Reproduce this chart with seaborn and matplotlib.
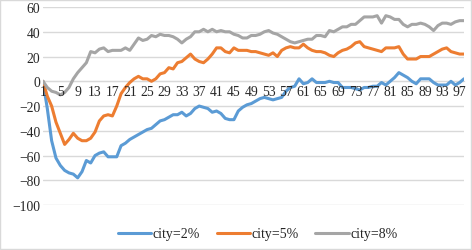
import numpy as np
import pandas as pd
import matplotlib.pyplot as plt
import seaborn as sns

# values
city_2 = [0, -22, -48, -62, -68, -72, -74, -75, -78, -73,
          -64, -66, -60, -58, -57, -61, -61, -61, -52, -50,
          -47, -45, -43, -41, -39, -38, -35, -32, -31, -29,
          -27, -27, -25, -28, -26, -22, -20, -21, -22, -25,
          -24, -26, -30, -31, -31, -24, -21, -19, -18, -16,
          -14, -13, -14, -15, -14, -13, -8, -5, -4, 2,
          -2, -1, 2, -1, -1, -1, 0, -1, -1, -5,
          -5, -5, -6, -7, -5, -5, -4, -4, -1, -3,
          0, 3, 7, 5, 3, 0, -2, 2, 2, 2,
          -1, -3, -3, -3, 0, -3, -1, 2]
city_5 = [0, -12, -20, -33, -42, -51, -47, -42, -46, -48,
          -48, -46, -41, -32, -28, -27, -28, -20, -10, -5,
          -1, 2, 4, 2, 2, 0, 2, 6, 7, 11,
          10, 15, 16, 19, 22, 18, 16, 15, 18, 22,
          27, 27, 24, 23, 27, 25, 25, 25, 24, 24,
          23, 22, 21, 23, 20, 25, 27, 28, 27, 27,
          30, 27, 25, 24, 24, 23, 21, 20, 23, 25,
          26, 28, 31, 32, 28, 27, 26, 25, 24, 27,
          27, 27, 28, 22, 18, 18, 18, 20, 20, 20,
          22, 24, 26, 27, 24, 23, 22, 22]
city_8 = [0, -5, -8, -9, -11, -9, -5, 2, 7, 11,
          15, 24, 23, 26, 27, 24, 25, 25, 25, 27,
          25, 30, 35, 33, 34, 37, 36, 38, 37, 37,
          36, 34, 31, 34, 36, 40, 40, 42, 40, 42,
          40, 41, 40, 40, 38, 37, 35, 35, 37, 37,
          38, 40, 41, 39, 38, 36, 34, 32, 31, 32,
          33, 34, 34, 37, 37, 36, 41, 40, 42, 44,
          44, 46, 46, 49, 52, 52, 52, 53, 47, 53,
          52, 50, 50, 46, 44, 46, 46, 47, 46, 44,
          41, 45, 47, 47, 46, 48, 49, 49]
series_names = ['city=2%', 'city=5%', 'city=8%']
colors = ['#5B9BD5', '#ED7D31', '#A5A5A5']

periods = np.arange(1, len(city_2) + 1)
df = pd.DataFrame({'t': np.tile(periods, 3),
                   'value': city_2 + city_5 + city_8,
                   'series': np.repeat(series_names, len(periods))})

sns.set_style('white')
plt.rcParams['font.family'] = ['Liberation Serif', 'DejaVu Serif']

fig = plt.figure(figsize=(4.72, 2.51), dpi=100)
ax = fig.add_axes([0.091, 0.179, 0.892, 0.789])

sns.lineplot(data=df, x='t', y='value', hue='series', palette=colors,
             linewidth=2.2, ax=ax, legend=True)

ax.set_xlim(1, len(periods))
ax.set_ylim(-100, 60)
ax.set_yticks(range(-100, 61, 20))
ax.set_xticks(periods[::4])
ax.tick_params(axis='both', length=0, labelsize=9.8, colors='#262626', pad=2)
ax.tick_params(axis='x', pad=3)
ax.grid(axis='y', color='#D9D9D9', linewidth=1)
ax.set_axisbelow(True)
ax.xaxis.set_zorder(5)  # category labels sit on top of the lines
for side in ['top', 'right', 'left']:
    ax.spines[side].set_visible(False)
ax.spines['bottom'].set_position(('data', 0))
ax.spines['bottom'].set_color('#D9D9D9')
ax.spines['bottom'].set_zorder(1)
ax.set_xlabel('')
ax.set_ylabel('')

ax.legend(loc='upper center', bbox_to_anchor=(0.51, -0.05), ncol=3,
          frameon=False, fontsize=10, handlelength=2.4, handletextpad=0.1,
          columnspacing=1.2)

# light chart border
fig.patches.append(plt.Rectangle((0.001, 0.002), 0.997, 0.995, transform=fig.transFigure,
                                 fill=False, edgecolor='#D9D9D9', linewidth=1))

plt.savefig('out.png', dpi=100)
